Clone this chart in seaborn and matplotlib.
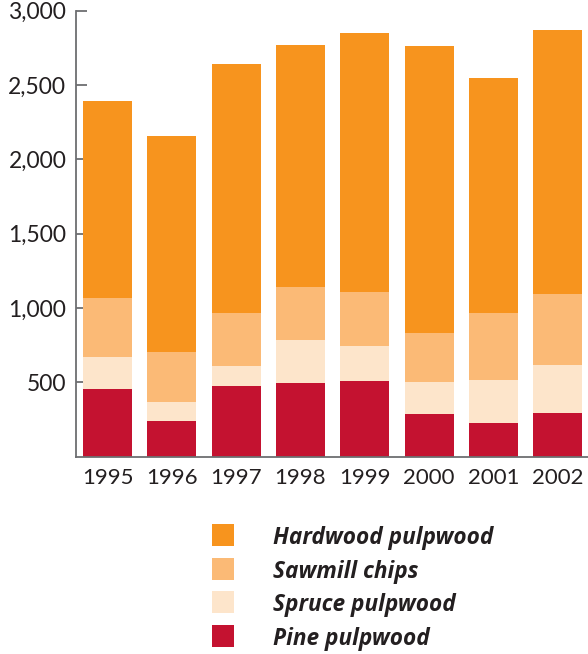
import matplotlib
matplotlib.use("Agg")
import matplotlib.pyplot as plt
import seaborn as sns
import numpy as np
import pandas as pd
from matplotlib.patches import Rectangle

years = ["1995", "1996", "1997", "1998", "1999", "2000", "2001", "2002"]
pine = [458, 241, 476, 496, 510, 288, 227, 295]
spruce = [213, 128, 135, 289, 233, 215, 289, 323]
sawmill = [399, 336, 356, 357, 365, 330, 451, 477]
hardwood = [1323, 1452, 1674, 1627, 1742, 1930, 1580, 1775]

series_names = ["Pine pulpwood", "Spruce pulpwood", "Sawmill chips", "Hardwood pulpwood"]
series_values = [pine, spruce, sawmill, hardwood]
colors = ["#C41230", "#FDE5CB", "#FBBA76", "#F7941E"]

sns.set_theme(style="white")
plt.rcParams["font.family"] = ["Lato", "DejaVu Sans"]

fig = plt.figure(figsize=(5.88, 6.54), dpi=100)
ax = fig.add_axes([76 / 588, 1 - 456.8 / 654, 1 - 76 / 588, (456.8 - 10.7) / 654])

# cumulative stacks, drawn from the tallest down so each layer shows
cum = np.cumsum(np.array(series_values), axis=0)
for name, tops, col in reversed(list(zip(series_names, cum, colors))):
    df = pd.DataFrame({"year": years, "value": tops})
    sns.barplot(data=df, x="year", y="value", color=col, width=0.76,
                saturation=1, ax=ax, edgecolor="none", linewidth=0)

ax.set_xlim(-0.49, 7.47)
ax.set_ylim(0, 3000)
ax.set_yticks([500, 1000, 1500, 2000, 2500, 3000])
ax.set_yticklabels([f"{v:,}" for v in [500, 1000, 1500, 2000, 2500, 3000]])
ax.set_xlabel("")
ax.set_ylabel("")

for s in ["top", "right"]:
    ax.spines[s].set_visible(False)
for s in ["left", "bottom"]:
    ax.spines[s].set_color("#6d6e71")
    ax.spines[s].set_linewidth(1.3)

ax.tick_params(axis="y", direction="in", length=8, width=1.3, color="#6d6e71",
               labelsize=16.5, labelcolor="#231f20", pad=7, left=True)
ax.tick_params(axis="x", length=0, labelsize=16, labelcolor="#231f20", pad=8)

# legend, top to bottom
legend_rows = list(zip(series_names, colors))[::-1]
row_tops = [524, 558, 591, 625]
for (name, col), top in zip(legend_rows, row_tops):
    fig.patches.append(Rectangle((212 / 588, 1 - (top + 22) / 654), 22 / 588, 22 / 654,
                                 transform=fig.transFigure, facecolor=col,
                                 edgecolor="none"))
    fig.text(273 / 588, 1 - (top + 14) / 654, name, fontsize=16.3, fontweight="bold",
             fontstyle="italic", color="#231f20", va="center", ha="left",
             family=["Open Sans", "DejaVu Sans"])

fig.savefig("out.png", dpi=100)
